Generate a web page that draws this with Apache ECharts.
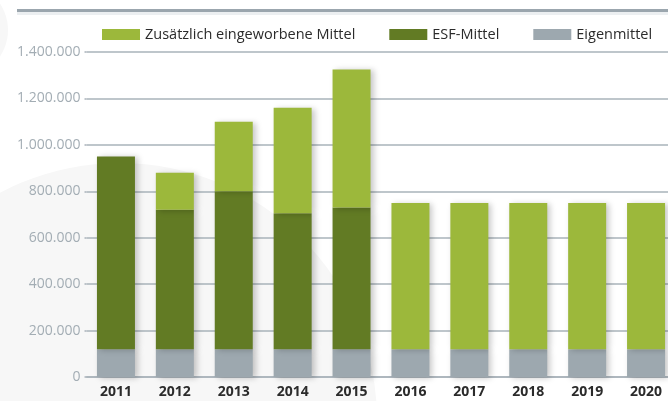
<!DOCTYPE html>
<html>
<head>
<meta charset="utf-8">
<script src="https://cdn.jsdelivr.net/npm/echarts@6/dist/echarts.min.js"></script>
<style>
  html, body { margin: 0; padding: 0; background: #fff; }
  #chart { width: 668px; height: 401px; }
</style>
</head>
<body>
<div id="chart"></div>
<script>
// Jahre und Finanzierungsanteile
const years = ['2011', '2012', '2013', '2014', '2015', '2016', '2017', '2018', '2019', '2020']
const eigenmittel = [120000, 120000, 120000, 120000, 120000, 120000, 120000, 120000, 120000, 120000]
const esfMittel = [830000, 600000, 680000, 585000, 610000, 0, 0, 0, 0, 0]
const zusaetzlich = [0, 160000, 300000, 455000, 595000, 630000, 630000, 630000, 630000, 630000]
const yTicks = [0, 200000, 400000, 600000, 800000, 1000000, 1200000, 1400000]

const fmt = function (v) {
    return String(v).replace(/\B(?=(\d{3})+(?!\d))/g, '.')
}

const shadow = {
    shadowColor: 'rgba(0,0,0,0.22)',
    shadowBlur: 6,
    shadowOffsetX: 3,
    shadowOffsetY: 1
}

let myChart = echarts.init(document.getElementById('chart'))
myChart.setOption({
    animation: false,
    textStyle: { fontFamily: 'Open Sans' },
    graphic: [
        // heller Hintergrund links unten
        { type: 'circle', z: -10, shape: { cx: 120, cy: 420, r: 257 }, style: { fill: '#f7f7f7' } },
        { type: 'circle', z: -10, shape: { cx: -40, cy: 30, r: 48 }, style: { fill: '#f7f7f7' } },
        // Linie oben
        { type: 'rect', z: -5, shape: { x: 17, y: 12, width: 651, height: 3 }, style: { fill: '#eceff1' } },
        { type: 'rect', z: -5, shape: { x: 17, y: 9, width: 651, height: 3 }, style: { fill: '#9ba6ae' } }
    ],
    legend: {
        left: 97,
        top: 22,
        itemWidth: 38,
        itemHeight: 11,
        itemGap: 34,
        itemStyle: { borderWidth: 0 },
        icon: 'rect',
        data: ['Zusätzlich eingeworbene Mittel', 'ESF-Mittel', 'Eigenmittel'],
        textStyle: { color: '#2b2b2b', fontSize: 14.5, fontFamily: 'Open Sans' }
    },
    grid: {
        left: 86.5,
        top: 52,
        width: 589,
        height: 325,
        containLabel: false,
        outerBoundsMode: 'none'
    },
    xAxis: {
        type: 'category',
        data: years,
        axisTick: { show: false },
        axisLine: { lineStyle: { color: '#a9b3ba', width: 1.5 } },
        axisLabel: { color: '#2b2b2b', fontWeight: 'bold', fontSize: 14, margin: 8, interval: 0 }
    },
    yAxis: {
        type: 'value',
        min: yTicks[0],
        max: yTicks[yTicks.length - 1],
        interval: 200000,
        axisLine: { show: false },
        axisTick: { show: true, length: 2, lineStyle: { color: '#a9b3ba', width: 1.5 } },
        axisLabel: { color: '#a3adb4', fontSize: 14, margin: 6, formatter: fmt },
        splitLine: { lineStyle: { color: '#a9b3ba', width: 1.5 } }
    },
    series: [
        {
            name: 'Eigenmittel',
            type: 'bar',
            stack: 'a',
            barWidth: 38,
            data: eigenmittel,
            itemStyle: Object.assign({ color: '#9da8af' }, shadow)
        },
        {
            name: 'ESF-Mittel',
            type: 'bar',
            stack: 'a',
            data: esfMittel,
            itemStyle: Object.assign({ color: '#627b24' }, shadow)
        },
        {
            name: 'Zusätzlich eingeworbene Mittel',
            type: 'bar',
            stack: 'a',
            data: zusaetzlich,
            itemStyle: Object.assign({ color: '#9cb83b' }, shadow)
        }
    ]
})
</script>
</body>
</html>
